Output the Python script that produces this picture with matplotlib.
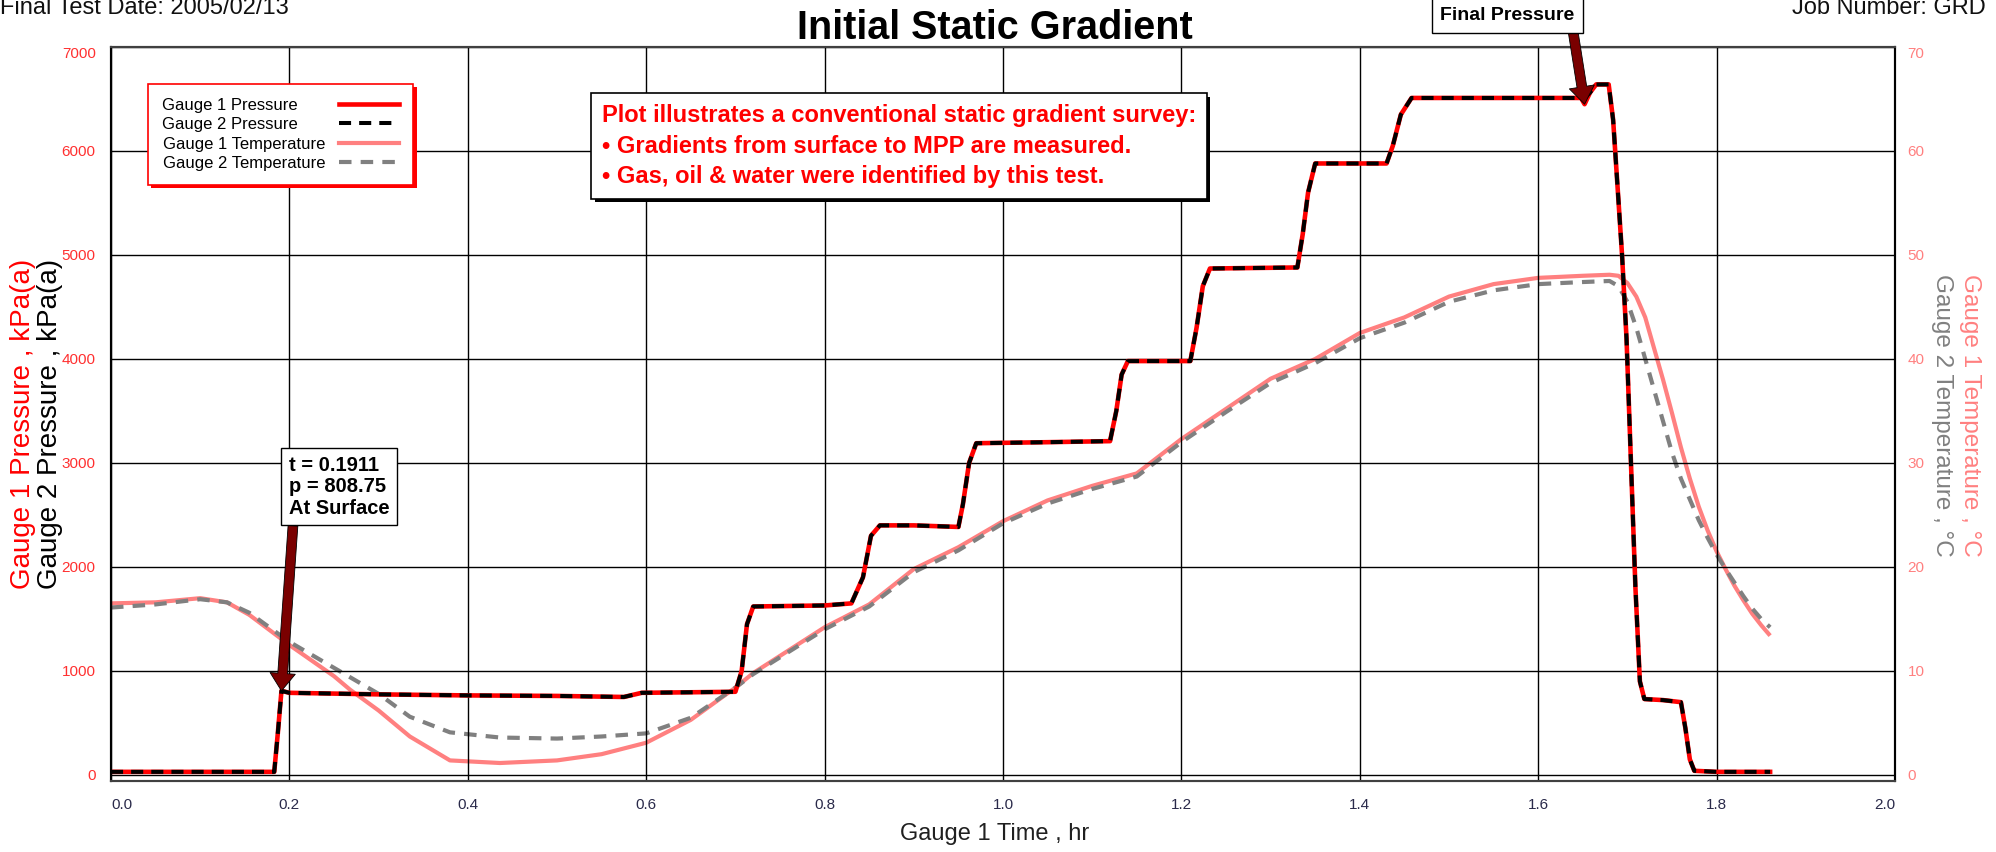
import numpy as np
import matplotlib
matplotlib.use("Agg")
import matplotlib.pyplot as plt
from matplotlib.lines import Line2D
import matplotlib.patheffects as pe

plt.rcParams['font.family'] = ['Liberation Sans', 'DejaVu Sans']

# Pressure record (both gauges), kPa(a) vs time, hr
time_p = [0.00, 0.10, 0.183, 0.187, 0.1911, 0.20, 0.30, 0.40, 0.50, 0.575, 0.585,
          0.595, 0.70, 0.707, 0.713, 0.72, 0.80, 0.83, 0.843, 0.852, 0.862, 0.90,
          0.95, 0.955, 0.962, 0.970, 1.05, 1.12, 1.127, 1.133, 1.14, 1.21, 1.217,
          1.224, 1.232, 1.33, 1.336, 1.342, 1.35, 1.43, 1.437, 1.446, 1.458, 1.60,
          1.648, 1.652, 1.658, 1.665, 1.679, 1.684, 1.694, 1.699, 1.704, 1.709,
          1.714, 1.719, 1.74, 1.76, 1.765, 1.77, 1.775, 1.80, 1.86]
p_gauge1 = [30, 30, 30, 400, 808.75, 790, 775, 765, 760, 750, 770,
            790, 800, 1000, 1450, 1620, 1630, 1650, 1900, 2300, 2400, 2400,
            2385, 2600, 3000, 3190, 3200, 3210, 3500, 3850, 3980, 3980, 4300,
            4700, 4870, 4880, 5200, 5600, 5880, 5880, 6050, 6350, 6510, 6510,
            6510, 6450, 6560, 6640, 6640, 6300, 5000, 4200, 3000, 1800, 900,
            730, 720, 700, 450, 150, 40, 30, 30]
p_gauge2 = [30, 30, 30, 400, 808.75, 790, 775, 765, 760, 750, 770,
            790, 800, 1000, 1450, 1620, 1630, 1650, 1900, 2300, 2400, 2400,
            2385, 2600, 3000, 3190, 3200, 3210, 3500, 3850, 3980, 3980, 4300,
            4700, 4870, 4880, 5200, 5600, 5880, 5880, 6050, 6350, 6510, 6510,
            6510, 6510, 6560, 6640, 6640, 6300, 5000, 4200, 3000, 1800, 900,
            730, 720, 700, 450, 150, 40, 30, 30]

# Temperature record, deg C
time_t = [0.00, 0.05, 0.10, 0.13, 0.155, 0.20, 0.25, 0.268, 0.30, 0.335, 0.38,
          0.436, 0.50, 0.55, 0.60, 0.65, 0.70, 0.72, 0.80, 0.85, 0.90, 0.95,
          1.00, 1.05, 1.10, 1.15, 1.20, 1.25, 1.30, 1.35, 1.40, 1.45, 1.50,
          1.55, 1.60, 1.65, 1.68, 1.69, 1.70, 1.71, 1.72, 1.73, 1.74, 1.75,
          1.76, 1.77, 1.78, 1.79, 1.80, 1.81, 1.82, 1.83, 1.84, 1.85, 1.86]
t_gauge1 = [16.5, 16.6, 17.0, 16.6, 15.4, 12.5, 9.5, 8.2, 6.2, 3.7, 1.4,
            1.15, 1.4, 2.0, 3.1, 5.3, 8.4, 9.8, 14.2, 16.4, 19.8, 21.9,
            24.4, 26.4, 27.8, 29.0, 32.3, 35.2, 38.1, 40.0, 42.5, 44.0, 46.0,
            47.2, 47.8, 48.0, 48.1, 48.0, 47.3, 46.0, 44.0, 41.0, 38.0, 34.8,
            31.5, 28.5, 25.8, 23.5, 21.5, 19.8, 18.2, 16.8, 15.5, 14.4, 13.4]
t_gauge2 = [16.1, 16.4, 16.9, 16.6, 15.6, 12.8, 10.3, 9.4, 7.8, 5.6, 4.1,
            3.6, 3.5, 3.7, 4.0, 5.5, 8.4, 9.7, 14.0, 16.2, 19.5, 21.6,
            24.2, 26.1, 27.5, 28.7, 32.0, 34.9, 37.7, 39.6, 42.0, 43.5, 45.5,
            46.6, 47.2, 47.4, 47.5, 47.0, 45.5, 43.0, 40.0, 37.0, 34.0, 31.0,
            28.5, 26.5, 24.5, 22.8, 21.2, 19.8, 18.5, 17.2, 16.0, 15.0, 14.2]

series_labels = ['Gauge 1 Pressure', 'Gauge 2 Pressure',
                 'Gauge 1 Temperature', 'Gauge 2 Temperature']
x_ticks = np.arange(0, 2.01, 0.2)
p_ticks = np.arange(0, 7001, 1000)
t_ticks = np.arange(0, 71, 10)

RED = '#ff0000'
PINK = '#ff8080'
GREY = '#808080'
ARROW = '#7a0000'

fig = plt.figure(figsize=(19.96, 8.52), dpi=100)
ax = fig.add_axes([111 / 1996, 1 - 781 / 852, 1784 / 1996, 734 / 852])
ax2 = ax.twinx()
ax.set_zorder(ax2.get_zorder() + 1)
ax.patch.set_visible(False)

# temperatures (right axis)
ax2.plot(time_t, t_gauge1, color=PINK, lw=3.0, solid_capstyle='butt')
ax2.plot(time_t, t_gauge2, color=GREY, lw=3.0, ls=(0, (3, 2.2)))

# pressures (left axis)
ax.plot(time_p, p_gauge1, color=RED, lw=3.3)
ax.plot(time_p, p_gauge2, color='black', lw=2.9, ls=(0, (3, 2)))

ax.set_xlim(0, 2)
ax.set_ylim(-58, 7000)
ax2.set_ylim(-0.58, 70)
ax.set_xticks(x_ticks)
ax.set_xticklabels([f'{v:.1f}' for v in x_ticks])
ax.set_yticks(p_ticks)
ax2.set_yticks(t_ticks)
ax.grid(True, color='black', lw=1.0)
ax.tick_params(axis='x', length=0, pad=12, labelsize=11, labelcolor='#2a2a4a')
ax.tick_params(axis='y', length=0, pad=11, labelsize=11, labelcolor='#ff3030')
ax2.tick_params(axis='y', length=0, pad=9, labelsize=11, labelcolor=PINK)
xl = ax.get_xticklabels()
xl[0].set_ha('left')
xl[-1].set_ha('right')
ax.get_yticklabels()[-1].set_va('top')
ax2.get_yticklabels()[-1].set_va('top')

for a in (ax, ax2):
    for s in ('left', 'right'):
        a.spines[s].set_color('black')
        a.spines[s].set_linewidth(1.5)
    for s in ('top', 'bottom'):
        a.spines[s].set_color('#404040')
        a.spines[s].set_linewidth(1.5)

# axis labels
fig.text(23 / 1996, 1 - 424 / 852, 'Gauge 1 Pressure , kPa(a)', rotation=90,
         color=RED, fontsize=20, ha='center', va='center')
fig.text(50 / 1996, 1 - 424 / 852, 'Gauge 2 Pressure , kPa(a)', rotation=90,
         color='black', fontsize=20, ha='center', va='center')
fig.text(1970 / 1996, 1 - 415 / 852, 'Gauge 1 Temperature , °C', rotation=270,
         color=PINK, fontsize=17.5, ha='center', va='center')
fig.text(1942 / 1996, 1 - 415 / 852, 'Gauge 2 Temperature , °C', rotation=270,
         color=GREY, fontsize=17.5, ha='center', va='center')
fig.text(995 / 1996, 1 - 834 / 852, 'Gauge 1 Time , hr', fontsize=17,
         ha='center', va='center', color='#202020')

fig.text(995 / 1996, 1 - 28 / 852, 'Initial Static Gradient', fontsize=28.5,
         fontweight='bold', ha='center', va='center')
fig.text(0.0, 1 + 3 / 852, 'Final Test Date: 2005/02/13', fontsize=17,
         ha='left', va='top', color='#101010')
fig.text(1986 / 1996, 1 + 3 / 852, 'Job Number: GRD', fontsize=17,
         ha='right', va='top', color='#101010')

# legend
handles = [Line2D([], [], color=RED, lw=3.3),
           Line2D([], [], color='black', lw=2.9, ls=(0, (3, 2))),
           Line2D([], [], color=PINK, lw=3.0),
           Line2D([], [], color=GREY, lw=3.0, ls=(0, (3, 2.2)))]
pad_labels = [lab + ' ' * pad for lab, pad in zip(series_labels, [6, 6, 0, 0])]
leg = ax.legend(handles, pad_labels, loc='upper left',
                bbox_to_anchor=((148 - 111) / 1784, (781 - 84) / 734),
                borderaxespad=0, markerfirst=False, fancybox=False,
                framealpha=1, edgecolor=RED, fontsize=12, handlelength=3.6,
                handletextpad=0.8, borderpad=0.85, labelspacing=0.25)
leg.get_frame().set_linewidth(1.2)
leg.get_frame().set_path_effects([pe.SimplePatchShadow(offset=(2.5, -2.5),
                                  shadow_rgbFace=RED, alpha=1), pe.Normal()])

# info box
info = ('Plot illustrates a conventional static gradient survey:\n'
        '\u2022 Gradients from surface to MPP are measured.\n'
        '\u2022 Gas, oil & water were identified by this test.')
t = ax.text((602 - 111) / 1784, (781 - 104) / 734, info, transform=ax.transAxes,
            fontsize=17, fontweight='bold', color=RED, ha='left', va='top',
            linespacing=1.42, zorder=10,
            bbox=dict(boxstyle='square,pad=0.45', fc='white', ec='black', lw=1.2))
t.get_bbox_patch().set_path_effects([pe.SimplePatchShadow(offset=(2.5, -2.5),
                                     shadow_rgbFace='black', alpha=1), pe.Normal()])

# annotations
arrow = dict(arrowstyle='simple,head_length=0.9,head_width=1.3,tail_width=0.5',
             mutation_scale=14, fc=ARROW, ec='black', lw=0.6,
             shrinkA=0, shrinkB=0)
ax.annotate('t = 0.1911\np = 808.75\nAt Surface', xy=(0.1911, 808.75),
            xytext=(0.199, 2475), ha='left', va='bottom', fontsize=14.5,
            fontweight='bold', linespacing=1.15, zorder=10,
            bbox=dict(boxstyle='square,pad=0.38', fc='white', ec='black', lw=1),
            arrowprops=dict(arrow, relpos=(0.05, 0)))
ax.annotate('Final Pressure', xy=(1.652, 6450), xytext=(1.5655, 7305),
            ha='center', va='center', fontsize=14, fontweight='bold', zorder=10,
            annotation_clip=False,
            bbox=dict(boxstyle='square,pad=0.45', fc='white', ec='black', lw=1),
            arrowprops=dict(arrow, relpos=(0.98, 0)))

fig.savefig('out.png', dpi=100)
